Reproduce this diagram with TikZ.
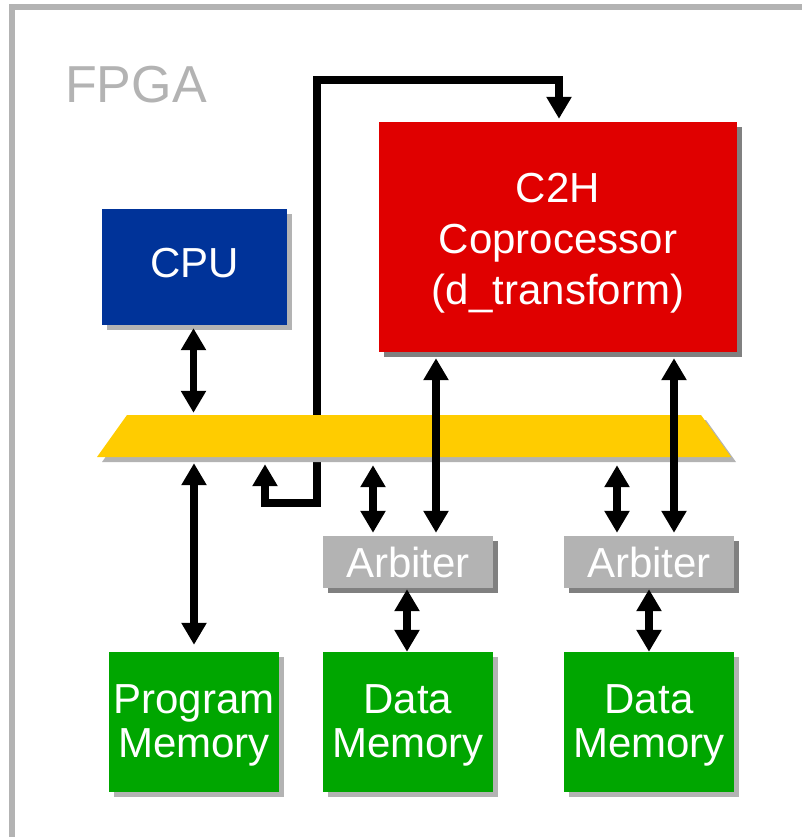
\documentclass[tikz,border=0pt]{standalone}
\usepackage{fontspec}
\setmainfont{Liberation Sans}
\usetikzlibrary{arrows.meta,shadows}

\definecolor{framegray}{HTML}{B3B3B3}
\definecolor{shadelight}{HTML}{B3B3B3}
\definecolor{shadedark}{HTML}{808080}
\definecolor{cpublue}{HTML}{003399}
\definecolor{c2hred}{HTML}{E00000}
\definecolor{memgreen}{HTML}{00A600}
\definecolor{busyellow}{HTML}{FFCC00}
\definecolor{arbgray}{HTML}{B3B3B3}

\begin{document}
\begin{tikzpicture}[x=1pt,y=-1pt,
  box/.style={inner sep=0pt, text=white, font=\fontsize{42}{44}\selectfont},
  lightshade/.style={drop shadow={shadow xshift=5pt,shadow yshift=-5pt,fill=shadelight,opacity=1}},
  darkshade/.style={drop shadow={shadow xshift=5pt,shadow yshift=-5pt,fill=shadedark,opacity=1}},
  bigtip/.tip={Triangle[width=24pt,length=22pt]},
  link/.style={line width=7.5pt, bigtip-bigtip},
  memory/.style={box, align=center, fill=memgreen, lightshade,
                 minimum width=170pt, minimum height=140pt},
  arbiter/.style={box, fill=arbgray, darkshade, minimum width=170pt,
                  minimum height=52pt, text height=30pt, text depth=0pt}
]
\useasboundingbox (0,0) rectangle (802,837);

% FPGA outline (only the top and left edges fall inside the page)
\draw[framegray, line width=6pt, line join=miter] (12,837) -- (12,7.5) -- (802,7.5);
\node[anchor=base west, inner sep=0pt, text=framegray,
      font=\fontsize{52}{60}\selectfont] (fpga) at (65,103) {FPGA};

% functional blocks
\node[box, fill=cpublue, lightshade, minimum width=185pt, minimum height=116pt,
      text depth=9pt] (cpu) at (194.5,267) {CPU};
\node[box, align=center, fill=c2hred, darkshade, minimum width=358pt,
      minimum height=230pt, font=\fontsize{42}{51}\selectfont] (c2h) at (558,237)
      {\rule{0pt}{41pt}C2H\\Coprocessor\\(d\_transform)};
\node[arbiter] (arbA) at (408,562) {Arbiter};
\node[arbiter] (arbB) at (649,562) {Arbiter};
\node[memory] (pm)  at (194,722) {\rule{0pt}{35pt}Program\\Memory};
\node[memory] (dmA) at (408,722) {\rule{0pt}{35pt}Data\\Memory};
\node[memory] (dmB) at (649,722) {\rule{0pt}{35pt}Data\\Memory};

% system bus footprint
\node[inner sep=0pt, minimum width=634pt, minimum height=42pt] (bus) at (414,436) {};
\coordinate (loopLow) at (317,503);
\coordinate (loopTop) at (317,80);

% control path from the bus to the coprocessor, passing behind the bus
\draw[link, line join=miter, shorten <=7pt, shorten >=3pt]
  ([xshift=-149pt]bus.south) |- (loopLow) -- (loopTop) -| ([xshift=1pt]c2h.north);

% the bus itself
\fill[busyellow, lightshade] (127,415) -- (701,415) -- (731,457) -- (97,457) -- cycle;

% bus masters and slaves
\draw[link, shorten <=3pt, shorten >=2pt] ([xshift=-1pt]cpu.south) -- ([xshift=-1pt]cpu.south |- bus.north);
\draw[link, shorten <=6pt, shorten >=7pt] (pm.north |- bus.south) -- (pm.north);

\draw[link, shorten <=8pt, shorten >=3pt] ([xshift=-35pt]arbA.north |- bus.south) -- ([xshift=-35pt]arbA.north);
\draw[link, shorten <=6pt, shorten >=3pt] ([xshift=28pt]arbA.north |- c2h.south) -- ([xshift=28pt]arbA.north);
\draw[link, shorten <=1pt, shorten >=0pt] ([xshift=-1pt]arbA.south) -- ([xshift=-1pt]dmA.north);

\draw[link, shorten <=8pt, shorten >=3pt] ([xshift=-32pt]arbB.north |- bus.south) -- ([xshift=-32pt]arbB.north);
\draw[link, shorten <=6pt, shorten >=3pt] ([xshift=25pt]arbB.north |- c2h.south) -- ([xshift=25pt]arbB.north);
\draw[link, shorten <=1pt, shorten >=0pt] (arbB.south) -- (dmB.north);
\end{tikzpicture}
\end{document}
